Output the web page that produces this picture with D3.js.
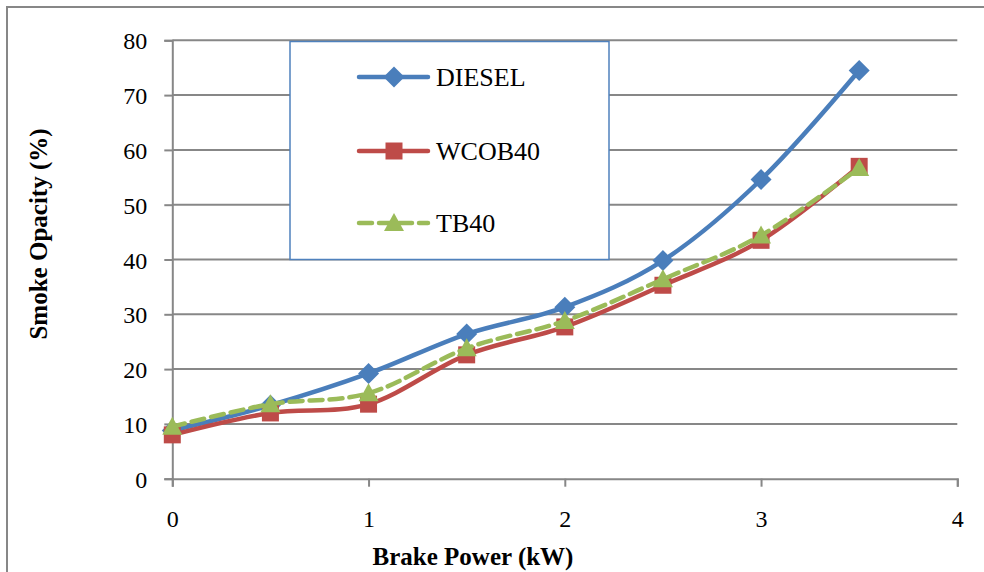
<!DOCTYPE html>
<html>
<head>
<meta charset="utf-8">
<script src="https://cdn.jsdelivr.net/npm/d3@7"></script>
<style>
  html, body { margin: 0; padding: 0; background: #fff; }
  svg { display: block; }
  svg text { font-family: "Liberation Serif", "Times New Roman", serif; }
</style>
</head>
<body>
<svg id="chart" width="984" height="572"></svg>
<script>
// Brake power (kW) at each measured load step
const brakePower = [0, 0.5, 1, 1.5, 2, 2.5, 3, 3.5];

// Smoke opacity (%) for each fuel
const diesel = [8.8, 13.4, 19.2, 26.4, 31.3, 39.8, 54.6, 74.5];
const wcob40 = [8.0, 12.0, 13.6, 22.6, 27.7, 35.3, 43.5, 57.0];
const tb40   = [9.5, 13.6, 15.6, 23.8, 28.8, 36.4, 44.4, 56.7];

const seriesNames = ["DIESEL", "WCOB40", "TB40"];
const xTicks = [0, 1, 2, 3, 4];
const yTicks = [0, 10, 20, 30, 40, 50, 60, 70, 80];

const series = [
  { name: seriesNames[0], values: diesel, color: "#4A7EBB", marker: "diamond", dash: null },
  { name: seriesNames[1], values: wcob40, color: "#BE4B48", marker: "square", dash: null },
  { name: seriesNames[2], values: tb40,   color: "#9BBB59", marker: "triangle", dash: "13,7" }
];

const svg = d3.select("#chart");
const gridColor = "#878787";
const serif = "'Liberation Serif', 'Times New Roman', serif";

// frame around the chart area
svg.append("path")
  .attr("d", "M7,580 L7,7 L990,7")
  .attr("fill", "none")
  .attr("stroke", gridColor)
  .attr("stroke-width", 2);

const x = d3.scaleLinear().domain([0, 4]).range([172.3, 957.3]);
const y = d3.scaleLinear().domain([0, 80]).range([478.7, 40.3]);

// horizontal gridlines
svg.append("g")
  .selectAll("line")
  .data(yTicks.filter(d => d > 0))
  .join("line")
  .attr("x1", x(0)).attr("x2", x(4))
  .attr("y1", d => y(d)).attr("y2", d => y(d))
  .attr("stroke", gridColor)
  .attr("stroke-width", 2);

// y axis
const yAxis = svg.append("g")
  .attr("transform", `translate(${x(0)},0)`)
  .call(d3.axisLeft(y).tickValues(yTicks).tickSize(8).tickPadding(17).tickFormat(d3.format("d")))
  .attr("font-family", null).attr("font-size", null);
yAxis.select(".domain").attr("stroke", gridColor).attr("stroke-width", 2);
yAxis.selectAll(".tick line").attr("stroke", gridColor).attr("stroke-width", 2);
yAxis.selectAll(".tick text")
  .style("font-family", serif)
  .style("font-size", "24px").attr("fill", "#000").attr("dy", "0.36em");

// x axis
const xAxis = svg.append("g")
  .attr("transform", `translate(0,${y(0)})`)
  .call(d3.axisBottom(x).tickValues(xTicks).tickSize(8).tickPadding(23).tickFormat(d3.format("d")))
  .attr("font-family", null).attr("font-size", null);
xAxis.select(".domain").attr("stroke", gridColor).attr("stroke-width", 2);
xAxis.selectAll(".tick line").attr("stroke", gridColor).attr("stroke-width", 2);
xAxis.selectAll(".tick text")
  .style("font-family", serif)
  .style("font-size", "24px").attr("fill", "#000");

// axis titles
svg.append("text")
  .attr("x", 473).attr("y", 565)
  .attr("text-anchor", "middle")
  .style("font-size", "25px").style("font-weight", "bold")
  .text("Brake Power (kW)");

svg.append("text")
  .attr("transform", "translate(47,234) rotate(-90)")
  .attr("text-anchor", "middle")
  .style("font-size", "25px").style("font-weight", "bold")
  .text("Smoke Opacity (%)");

// marker shapes
const markerPath = {
  diamond: "M0,-10.5 L10.5,0 L0,10.5 L-10.5,0 Z",
  square: "M-8.5,-8.5 L8.5,-8.5 L8.5,8.5 L-8.5,8.5 Z",
  triangle: "M0,-10 L10,8 L-10,8 Z"
};

const line = d3.line()
  .x((d, i) => x(brakePower[i]))
  .y(d => y(d))
  .curve(d3.curveCatmullRom.alpha(0));

const plot = svg.append("g");
series.forEach(s => {
  plot.append("path")
    .datum(s.values)
    .attr("d", line)
    .attr("fill", "none")
    .attr("stroke", s.color)
    .attr("stroke-width", 4.5)
    .attr("stroke-linecap", "round")
    .attr("stroke-dasharray", s.dash);
  plot.append("g")
    .selectAll("path")
    .data(s.values)
    .join("path")
    .attr("transform", (d, i) => `translate(${x(brakePower[i])},${y(d)})`)
    .attr("d", markerPath[s.marker])
    .attr("fill", s.color);
});

// legend
const legend = svg.append("g");
legend.append("rect")
  .attr("x", 290).attr("y", 41.5)
  .attr("width", 319).attr("height", 218)
  .attr("fill", "#fff")
  .attr("stroke", "#4F81BD")
  .attr("stroke-width", 1.5);

const rowY = [77, 151, 223];
series.forEach((s, i) => {
  const g = legend.append("g").attr("transform", `translate(0,${rowY[i]})`);
  g.append("line")
    .attr("x1", 359).attr("x2", 428)
    .attr("stroke", s.color)
    .attr("stroke-width", 4.5)
    .attr("stroke-linecap", "round")
    .attr("stroke-dasharray", s.dash);
  g.append("path")
    .attr("transform", "translate(394,0)")
    .attr("d", markerPath[s.marker])
    .attr("fill", s.color);
  g.append("text")
    .attr("x", 436).attr("y", 9)
    .style("font-size", "26px")
    .attr("fill", "#000")
    .text(s.name);
});
</script>
</body>
</html>
